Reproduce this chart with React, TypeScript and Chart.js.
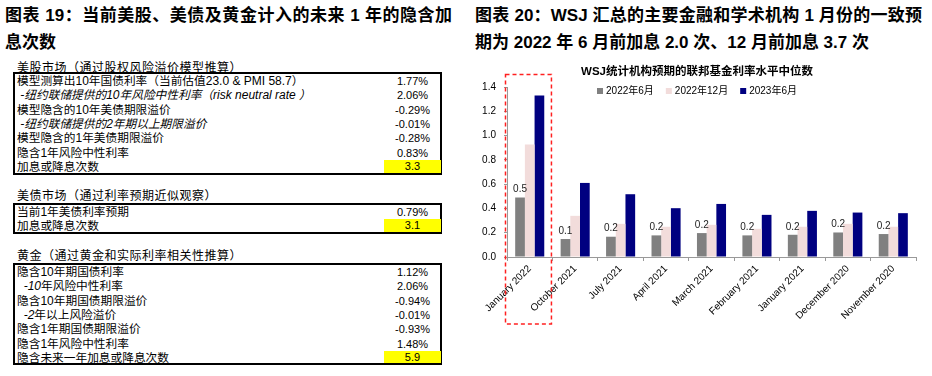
import React, { useEffect, useRef } from "react";
import { Chart, registerables } from "chart.js";

Chart.register(...registerables);

const FONT = '"Liberation Sans", Arial, "Noto Sans CJK SC", sans-serif';

// ---------------- chart data ----------------
const categories = [
  "January 2022",
  "October 2021",
  "July 2021",
  "April 2021",
  "March 2021",
  "February 2021",
  "January 2021",
  "December 2020",
  "November 2020",
];
const seriesNames = ["2022年6月", "2022年12月", "2023年6月"];
const jun2022 = [0.49, 0.148, 0.167, 0.178, 0.197, 0.178, 0.183, 0.202, 0.189];
const dec2022 = [0.927, 0.339, 0.273, 0.249, 0.265, 0.232, 0.249, 0.273, 0.249];
const jun2023 = [1.33, 0.61, 0.517, 0.402, 0.437, 0.347, 0.38, 0.366, 0.361];
const seriesColors = ["#808080", "#F2DCDB", "#000080"];
const chartTitle = "WSJ统计机构预期的联邦基金利率水平中位数";

// ---------------- table data ----------------
const leftTitle = ["图表 19：当前美股、美债及黄金计入的未来 1 年的隐含加", "息次数"];
const rightTitle = [
  "图表 20：WSJ 汇总的主要金融和学术机构 1 月份的一致预",
  "期为 2022 年 6 月前加息 2.0 次、12 月前加息 3.7 次",
];

const equityHeader = "美股市场（通过股权风险溢价模型推算）";
const equityLabels = [
  "模型测算出10年国债利率（当前估值23.0 & PMI 58.7）",
  " -纽约联储提供的10年风险中性利率（risk neutral rate ）",
  "模型隐含的10年美债期限溢价",
  " -纽约联储提供的2年期以上期限溢价",
  "模型隐含的1年美债期限溢价",
  "隐含1年风险中性利率",
  "加息或降息次数",
];
const equityValues = ["1.77%", "2.06%", "-0.29%", "-0.01%", "-0.28%", "0.83%", "3.3"];
const equityItalic = [false, true, false, true, false, false, false];

const bondHeader = "美债市场（通过利率预期近似观察）";
const bondLabels = ["当前1年美债利率预期", "加息或降息次数"];
const bondValues = ["0.79%", "3.1"];
const bondItalic = [false, false];

const goldHeader = "黄金（通过黄金和实际利率相关性推算）";
const goldLabels = [
  "隐含10年期国债利率",
  "  -10年风险中性利率",
  "隐含10年期国债期限溢价",
  "  -2年以上风险溢价",
  "隐含1年期国债期限溢价",
  "隐含1年风险中性利率",
  "隐含未来一年加息或降息次数",
];
const goldValues = ["1.12%", "2.06%", "-0.94%", "-0.01%", "-0.93%", "1.48%", "5.9"];
const goldItalic = [false, "prefix", false, "prefix", false, false, false];

const CJK_SPLIT = /([\u3000-\u303f\u4e00-\u9fff\uff00-\uffef]+)/;
const CJK_ONLY = /^[\u3000-\u303f\u4e00-\u9fff\uff00-\uffef]+$/;

function mixed(text: string, italic: boolean, keyBase: string) {
  return text
    .split(CJK_SPLIT)
    .filter((s) => s.length > 0)
    .map((s, i) => {
      const isCjk = CJK_ONLY.test(s);
      return (
        <span
          key={keyBase + i}
          style={{ fontSize: isCjk ? 11.7 : 12, fontStyle: italic ? "italic" : "normal", whiteSpace: "pre" }}
        >
          {s}
        </span>
      );
    });
}

function renderLabel(label: string, italic: any) {
  if (italic === true) return mixed(label, true, "a");
  if (italic === "prefix") {
    const m = label.match(/^(\s*-\d+)(.*)$/);
    if (m) return [...mixed(m[1], true, "p"), ...mixed(m[2], false, "q")];
  }
  return mixed(label, false, "n");
}

function Section(props: {
  header: string;
  headerTop: number;
  boxTop: number;
  boxHeight: number;
  rowH: number;
  labels: string[];
  values: string[];
  italic: any[];
}) {
  const { header, headerTop, boxTop, boxHeight, rowH, labels, values, italic } = props;
  const boxLeft = 13;
  const boxWidth = 429;
  const valLeft = 384 - boxLeft - 2;
  const valWidth = 57;
  return (
    <>
      <div
        style={{
          position: "absolute",
          left: 17,
          top: headerTop,
          fontSize: 12,
          lineHeight: "14px",
          letterSpacing: 0.5,
          whiteSpace: "nowrap",
          color: "#000",
        }}
      >
        {header}
      </div>
      <div
        style={{
          position: "absolute",
          left: boxLeft,
          top: boxTop,
          width: boxWidth,
          height: boxHeight,
          border: "2px solid #000",
          boxSizing: "border-box",
        }}
      >
        {labels.map((lab, i) => {
          const last = i === labels.length - 1;
          const h = last ? boxHeight - 4 - i * rowH : rowH;
          return (
            <React.Fragment key={i}>
              <div
                style={{
                  position: "absolute",
                  left: 2,
                  top: i * rowH,
                  height: rowH,
                  lineHeight: rowH + "px",
                  fontSize: 12,
                  whiteSpace: "nowrap",
                }}
              >
                {renderLabel(lab, italic[i])}
              </div>
              <div
                style={{
                  position: "absolute",
                  left: valLeft,
                  top: i * rowH,
                  width: valWidth,
                  height: h,
                  lineHeight: h + "px",
                  fontSize: 11,
                  textAlign: "center",
                  background: last ? "#FFFF00" : "transparent",
                }}
              >
                {values[i]}
              </div>
            </React.Fragment>
          );
        })}
      </div>
    </>
  );
}

const decorPlugin = {
  id: "decor",
  afterDraw(chart: any) {
    const ctx = chart.ctx;
    const xs = chart.scales.x;
    ctx.save();
    // data labels on first series
    const meta = chart.getDatasetMeta(0);
    ctx.font = `10px ${FONT}`;
    ctx.fillStyle = "#222";
    ctx.textAlign = "center";
    ctx.textBaseline = "bottom";
    meta.data.forEach((el: any, i: number) => {
      ctx.fillText(jun2022[i].toFixed(1), el.x, el.y - 3);
    });

    // title
    const cx = chart.width / 2 - 4;
    ctx.font = `bold 11.5px ${FONT}`;
    ctx.fillStyle = "#000";
    ctx.textAlign = "center";
    ctx.textBaseline = "middle";
    ctx.fillText(chartTitle, cx, 17);

    // legend
    ctx.font = `10px ${FONT}`;
    const box = 6;
    const gapBT = 3;
    const gapItems = 12;
    const widths = seriesNames.map((n) => box + gapBT + ctx.measureText(n).width);
    const total = widths.reduce((a, b) => a + b, 0) + gapItems * (widths.length - 1);
    let lx = cx - total / 2;
    const ly = 36;
    ctx.textAlign = "left";
    seriesNames.forEach((n, i) => {
      ctx.fillStyle = seriesColors[i];
      ctx.fillRect(lx, ly - box / 2, box, box);
      ctx.fillStyle = "#000";
      ctx.fillText(n, lx + box + gapBT, ly + 0.5);
      lx += widths[i] + gapItems;
    });

    // dashed highlight rectangle around first category
    const c0 = xs.getPixelForValue(0);
    const half = (xs.getPixelForValue(1) - c0) / 2;
    ctx.strokeStyle = "#FF2020";
    ctx.lineWidth = 1.5;
    ctx.setLineDash([4, 3]);
    ctx.strokeRect(c0 - half - 1.5, 19.5, 2 * half + 0.5, 249.5);
    ctx.restore();
  },
};

function BarChart() {
  const ref = useRef<HTMLCanvasElement>(null);
  useEffect(() => {
    if (!ref.current) return;
    const chart = new Chart(ref.current, {
      type: "bar",
      data: {
        labels: categories,
        datasets: [
          { label: seriesNames[0], data: jun2022, backgroundColor: seriesColors[0] },
          { label: seriesNames[1], data: dec2022, backgroundColor: seriesColors[1] },
          { label: seriesNames[2], data: jun2023, backgroundColor: seriesColors[2] },
        ],
      },
      options: {
        responsive: false,
        animation: false,
        layout: { padding: { top: 32, right: 16, left: 0, bottom: 0 } },
        datasets: { bar: { categoryPercentage: 0.64, barPercentage: 1.0 } },
        plugins: { legend: { display: false }, title: { display: false }, tooltip: { enabled: false } },
        scales: {
          x: {
            grid: {
              display: true,
              drawOnChartArea: false,
              drawTicks: true,
              tickLength: 4,
              color: "#999",
              offset: true,
            },
            border: { display: true, color: "#999" },
            ticks: {
              autoSkip: false,
              maxRotation: 45,
              minRotation: 45,
              padding: 2,
              color: "#000",
              font: { family: FONT, size: 10 },
            },
            afterFit: (s: any) => {
              s.height = 119;
            },
          },
          y: {
            min: 0,
            max: 1.4,
            grid: { display: true, drawOnChartArea: false, drawTicks: true, tickLength: 3, color: "#999" },
            border: { display: true, color: "#999" },
            ticks: {
              stepSize: 0.2,
              padding: 8,
              color: "#000",
              font: { family: FONT, size: 10 },
              callback: (v: any) => Number(v).toFixed(1),
            },
            afterFit: (s: any) => {
              s.width = 37;
            },
          },
        },
      },
      plugins: [decorPlugin],
    } as any);
    return () => chart.destroy();
  }, []);
  return <canvas ref={ref} width={462} height={321} style={{ display: "block" }} />;
}

export default function App() {
  const titleStyle: React.CSSProperties = {
    position: "absolute",
    fontSize: 17,
    fontWeight: "bold",
    lineHeight: "20px",
    whiteSpace: "nowrap",
    color: "#000",
  };
  return (
    <div
      style={{
        position: "fixed",
        left: 0,
        top: 0,
        width: 932,
        height: 376,
        background: "#fff",
        overflow: "hidden",
        fontFamily: FONT,
        color: "#000",
      }}
    >
      <div style={{ ...titleStyle, left: 5, top: 6, width: 447, textAlign: "justify", textAlignLast: "justify", whiteSpace: "normal" }}>
        {leftTitle[0]}
      </div>
      <div style={{ ...titleStyle, left: 5, top: 33 }}>{leftTitle[1]}</div>
      <div style={{ ...titleStyle, left: 475, top: 6, width: 447, textAlign: "justify", textAlignLast: "justify", whiteSpace: "normal" }}>
        {rightTitle[0]}
      </div>
      <div style={{ ...titleStyle, left: 475, top: 33 }}>{rightTitle[1]}</div>

      <Section
        header={equityHeader}
        headerTop={61}
        boxTop={72}
        boxHeight={103}
        rowH={14.3}
        labels={equityLabels}
        values={equityValues}
        italic={equityItalic}
      />
      <Section
        header={bondHeader}
        headerTop={189}
        boxTop={203}
        boxHeight={31}
        rowH={14.4}
        labels={bondLabels}
        values={bondValues}
        italic={bondItalic}
      />
      <Section
        header={goldHeader}
        headerTop={249}
        boxTop={263}
        boxHeight={102}
        rowH={14.3}
        labels={goldLabels}
        values={goldValues}
        italic={goldItalic}
      />

      <div style={{ position: "absolute", left: 470, top: 55, width: 462, height: 321 }}>
        <BarChart />
      </div>
    </div>
  );
}
